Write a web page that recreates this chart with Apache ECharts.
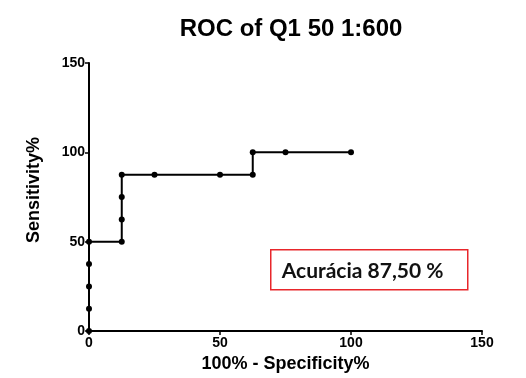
<!DOCTYPE html>
<html>
<head>
<meta charset="utf-8">
<script src="https://cdn.jsdelivr.net/npm/echarts@6/dist/echarts.min.js"></script>
<style>
  html, body { margin: 0; padding: 0; background: #fff; }
  #chart { width: 526px; height: 378px; }
</style>
</head>
<body>
<div id="chart"></div>
<script>
// ROC curve points: 100% - Specificity% vs Sensitivity%
const fpr = [0, 0, 0, 0, 0, 12.5, 12.5, 12.5, 12.5, 25, 50, 62.5, 62.5, 75, 100];
const sensitivity = [0, 12.5, 25, 37.5, 50, 50, 62.5, 75, 87.5, 87.5, 87.5, 87.5, 100, 100, 100];
const axisTicks = [0, 50, 100, 150];
const titleText = 'ROC of Q1 50 1:600';
const xName = '100% - Specificity%';
const yName = 'Sensitivity%';
const accuracyText = 'Acurácia 87,50 %';

const chart = echarts.init(document.getElementById('chart'), null, { renderer: 'canvas' });
const font = 'Liberation Sans, Arial, sans-serif';
const axisCommon = {
  min: axisTicks[0],
  max: axisTicks[axisTicks.length - 1],
  interval: axisTicks[1] - axisTicks[0],
  splitLine: { show: false },
  axisLine: { show: true, onZero: false, lineStyle: { color: '#000', width: 2 } },
  axisTick: { show: true, length: 4, lineStyle: { color: '#000', width: 1.5 } },
  axisLabel: { color: '#000', fontFamily: font, fontWeight: 'bold', fontSize: 14 },
  nameLocation: 'middle',
  nameTextStyle: { color: '#000', fontFamily: font, fontWeight: 'bold', fontSize: 18 }
};

chart.setOption({
  animation: false,
  backgroundColor: '#fff',
  title: {
    text: titleText,
    left: 286,
    top: 12,
    textAlign: 'center',
    textStyle: { color: '#000', fontFamily: font, fontWeight: 'bold', fontSize: 24 }
  },
  grid: { left: 89, right: 44, top: 63, bottom: 46 },
  xAxis: Object.assign({}, axisCommon, {
    type: 'value',
    name: xName,
    nameGap: 22,
    axisLabel: Object.assign({}, axisCommon.axisLabel, { margin: 5 })
  }),
  yAxis: Object.assign({}, axisCommon, {
    type: 'value',
    name: yName,
    nameGap: 46,
    nameTextStyle: Object.assign({}, axisCommon.nameTextStyle, { padding: [0, 0, 0, 14] }),
    axisLabel: Object.assign({}, axisCommon.axisLabel, { margin: 4 })
  }),
  series: [{
    type: 'line',
    data: fpr.map((x, i) => [x, sensitivity[i]]),
    symbol: 'circle',
    symbolSize: 6,
    itemStyle: { color: '#000' },
    lineStyle: { color: '#000', width: 2 },
    clip: false
  }],
  graphic: [{
    type: 'group',
    left: 270,
    top: 249,
    children: [{
      type: 'rect',
      shape: { x: 0, y: 0, width: 197, height: 40 },
      style: { fill: '#fff', stroke: '#e8262b', lineWidth: 1.5 }
    }, {
      type: 'text',
      x: 11,
      y: 21,
      style: {
        text: accuracyText,
        fill: '#111',
        font: 'bold 21px Lato, "Open Sans", sans-serif',
        textVerticalAlign: 'middle'
      }
    }]
  }]
});
</script>
</body>
</html>
